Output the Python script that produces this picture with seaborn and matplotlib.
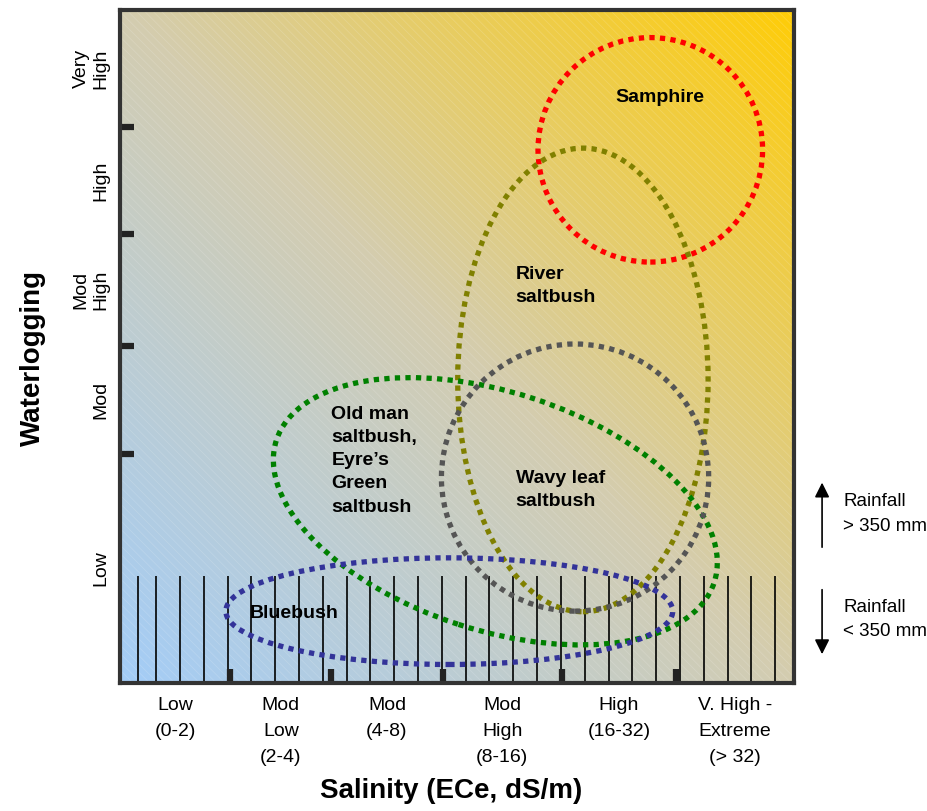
import numpy as np
import matplotlib
matplotlib.use("Agg")
import matplotlib.pyplot as plt
from matplotlib.patches import Ellipse, Rectangle
from matplotlib.colors import LinearSegmentedColormap
import seaborn as sns

# Salinity classes (x) and waterlogging classes (y)
salinity_labels = ["Low\n(0-2)", "Mod\nLow\n(2-4)", "Mod\n(4-8)", "Mod\nHigh\n(8-16)",
                   "High\n(16-32)", "V. High -\nExtreme\n(> 32)"]
salinity_bounds = [0, 0.98, 1.88, 2.87, 3.93, 4.95, 6]
water_labels = ["Low", "Mod", "Mod\nHigh", "High", "Very\nHigh"]
water_bounds = [0, 2.04, 3.0, 4.0, 4.95, 6]

# Tolerance zones of each plant: centre, width, height, tilt
species = ["Samphire", "River\nsaltbush", "Old man\nsaltbush,\nEyre\u2019s\nGreen\nsaltbush",
           "Wavy leaf\nsaltbush", "Bluebush"]
zone_x = [4.72, 4.12, 3.34, 4.05, 2.93]
zone_y = [4.75, 2.70, 1.53, 1.83, 0.64]
zone_w = [2.00, 2.23, 4.10, 2.38, 3.98]
zone_h = [2.00, 4.13, 2.12, 2.38, 0.95]
zone_angle = [0, 0, -18, 0, 0]
zone_colors = ["#ff0000", "#808000", "#008000", "#555555", "#333399"]
label_x = [4.41, 3.52, 1.88, 3.52, 1.15]
label_y = [5.22, 3.54, 1.98, 1.72, 0.62]

sns.set_theme(style="white")
plt.rcParams["font.family"] = ["Liberation Sans", "DejaVu Sans"]
plt.rcParams["hatch.linewidth"] = 0.5
for k in ["text.color", "axes.labelcolor", "xtick.color", "ytick.color"]:
    plt.rcParams[k] = "black"

fig = plt.figure(figsize=(9.28, 8.11), dpi=100)
ax = fig.add_axes([120.3 / 928, 1 - 683 / 811, 673.7 / 928, 673.5 / 811])
ax.set_xlim(0, 6)
ax.set_ylim(0, 6)
ax.set_axisbelow(False)

# gradient background blue -> beige -> gold
cmap = LinearSegmentedColormap.from_list(
    "bg", [(0.0, (0.64, 0.80, 0.97)), (0.5, (0.83, 0.80, 0.69)), (1.0, (1.0, 0.80, 0.03))])
gx, gy = np.meshgrid(np.linspace(0, 1, 200), np.linspace(0, 1, 200))
ax.imshow((gx + gy) / 2, extent=[0, 6, 0, 6], origin="lower", cmap=cmap,
          aspect="auto", interpolation="bilinear", zorder=0)
ax.add_patch(Rectangle((0, 0), 6, 6, facecolor="none", edgecolor=(1, 1, 1, 0.18),
                       linewidth=0, hatch="\\\\\\\\", zorder=1))

# low rainfall band: vertical lines
rain_lines = [0.16] + list(np.arange(0.32, 5.9, 0.212))
ax.vlines(rain_lines, 0, 0.953, color="black", linewidth=1.2, zorder=2)

for i in range(len(species)):
    ax.add_patch(Ellipse((zone_x[i], zone_y[i]), zone_w[i], zone_h[i], angle=zone_angle[i],
                         fill=False, edgecolor=zone_colors[i], linewidth=3.8,
                         linestyle=(0, (1, 1)), zorder=3))
    ax.text(label_x[i], label_y[i], species[i], ha="left", va="center",
            fontsize=14, fontweight="bold", color="black", linespacing=1.48, zorder=4)

# axes styling
for s in ax.spines.values():
    s.set_color("#333333")
    s.set_linewidth(3)
    s.set_zorder(5)

ax.set_xticks(salinity_bounds[1:-1])
ax.set_xticklabels([])
ax.set_yticks(water_bounds[1:-1])
ax.set_yticklabels([])
ax.tick_params(which="major", direction="in", length=10, width=4.5, color="#222222",
               bottom=True, left=True)

x_mid = [(salinity_bounds[i] + salinity_bounds[i + 1]) / 2 for i in range(6)]
y_mid = [(water_bounds[i] + water_bounds[i + 1]) / 2 for i in range(5)]
ax.set_xticks(x_mid, minor=True)
ax.set_xticklabels(salinity_labels, minor=True, fontsize=14, linespacing=1.68)
ax.set_yticks(y_mid, minor=True)
ax.set_yticklabels(water_labels, minor=True, fontsize=14, rotation=90,
                   va="center", ha="right", multialignment="center", linespacing=1.2)
ax.tick_params(which="minor", length=0, bottom=True, left=True)
ax.tick_params(axis="x", which="minor", pad=10)
ax.tick_params(axis="y", which="minor", pad=8)

ax.set_xlabel("Salinity (ECe, dS/m)", fontsize=20, fontweight="bold")
ax.xaxis.set_label_coords(0.491, -0.141)
ax.set_ylabel("Waterlogging", fontsize=20, fontweight="bold")
ax.yaxis.set_label_coords(-0.11, 0.4826)

# rainfall arrows on the right
ax.annotate("", xy=(6.25, 1.81), xytext=(6.25, 1.185), annotation_clip=False,
            arrowprops=dict(arrowstyle="-|>", mutation_scale=22, lw=1.2, color="black"))
ax.annotate("", xy=(6.25, 0.232), xytext=(6.25, 0.856), annotation_clip=False,
            arrowprops=dict(arrowstyle="-|>", mutation_scale=22, lw=1.2, color="black"))
ax.text(6.44, 1.506, "Rainfall\n> 350 mm", fontsize=13.5, ha="left", va="center", linespacing=1.6)
ax.text(6.44, 0.566, "Rainfall\n< 350 mm", fontsize=13.5, ha="left", va="center", linespacing=1.6)

fig.savefig("out.png", dpi=100)
